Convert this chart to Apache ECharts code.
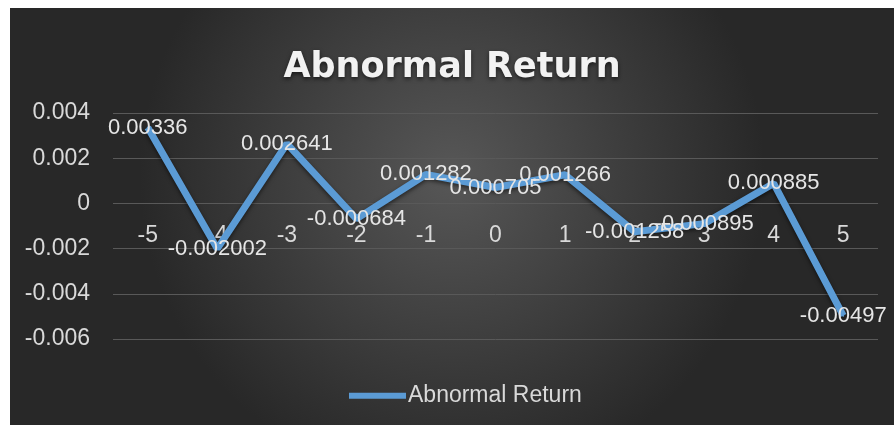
<script src="https://cdn.jsdelivr.net/npm/echarts@6/dist/echarts.min.js"></script>
<style>
  body { margin: 0; background: #fff; }
  #chart { position: absolute; left: 10px; top: 8px; width: 884px; height: 417px; }
</style>
<div id="chart"></div>

<script>
  const categories = ['-5', '-4', '-3', '-2', '-1', '0', '1', '2', '3', '4', '5']
  const abnormalReturn = [0.00336, -0.002002, 0.002641, -0.000684, 0.001282, 0.000705, 0.001266, -0.001258, -0.000895, 0.000885, -0.00497]
  const seriesName = 'Abnormal Return'

  const yMin = -0.006
  const yMax = 0.004
  const gridTop = 105
  const gridBottom = 86
  const chartHeight = 417

  const labelFont = '"Liberation Sans Narrow", sans-serif'
  const textColor = '#d9d9d9'
  const lineColor = '#5b9bd5'

  // category labels sit next to the zero line, like the excel chart
  const plotHeight = chartHeight - gridTop - gridBottom
  const zeroOffset = -plotHeight * (0 - yMin) / (yMax - yMin)

  const myChart = echarts.init(document.getElementById('chart'))

  myChart.setOption({
    backgroundColor: {
      type: 'radial',
      x: 0.5,
      y: 0.4,
      r: 0.75,
      colorStops: [
        { offset: 0, color: '#575757' },
        { offset: 1, color: '#282828' }
      ]
    },
    title: {
      text: 'Abnormal Return',
      left: 437,
      textAlign: 'center',
      top: 18,
      textStyle: {
        color: '#f2f2f2',
        fontFamily: '"DejaVu Sans", sans-serif',
        fontWeight: 'bold',
        fontSize: 35,
        textShadowColor: 'rgba(0,0,0,0.6)',
        textShadowBlur: 4,
        textShadowOffsetY: 2
      }
    },
    grid: {
      left: 103,
      right: 16,
      top: gridTop,
      bottom: gridBottom
    },
    legend: {
      data: [seriesName],
      left: 334,
      top: 363,
      icon: 'rect',
      itemWidth: 57,
      itemHeight: 6,
      itemGap: 0,
      itemStyle: { color: lineColor },
      textStyle: {
        color: textColor,
        fontFamily: labelFont,
        fontSize: 23,
        padding: [0, 0, 0, -3]
      }
    },
    xAxis: {
      type: 'category',
      data: categories,
      boundaryGap: true,
      offset: zeroOffset,
      axisLine: { show: false, onZero: false },
      axisTick: { show: false },
      axisLabel: {
        color: textColor,
        fontFamily: labelFont,
        fontSize: 23,
        margin: 12
      }
    },
    yAxis: {
      type: 'value',
      min: yMin,
      max: yMax,
      interval: 0.002,
      axisLine: { show: false },
      axisTick: { show: false },
      splitLine: { lineStyle: { color: '#595959' } },
      axisLabel: {
        color: textColor,
        fontFamily: labelFont,
        fontSize: 23,
        margin: 23
      }
    },
    series: [
      {
        name: seriesName,
        type: 'line',
        data: abnormalReturn,
        symbol: 'circle',
        symbolSize: 2,
        showSymbol: true,
        lineStyle: {
          color: lineColor,
          width: 7,
          shadowColor: 'rgba(0,0,0,0.55)',
          shadowBlur: 4,
          shadowOffsetY: 2
        },
        itemStyle: { color: lineColor },
        label: {
          show: true,
          position: 'inside',
          color: '#e6e6e6',
          fontFamily: labelFont,
          fontSize: 22,
          formatter: p => String(p.value)
        },
        labelLayout: { hideOverlap: false }
      }
    ]
  })
</script>
